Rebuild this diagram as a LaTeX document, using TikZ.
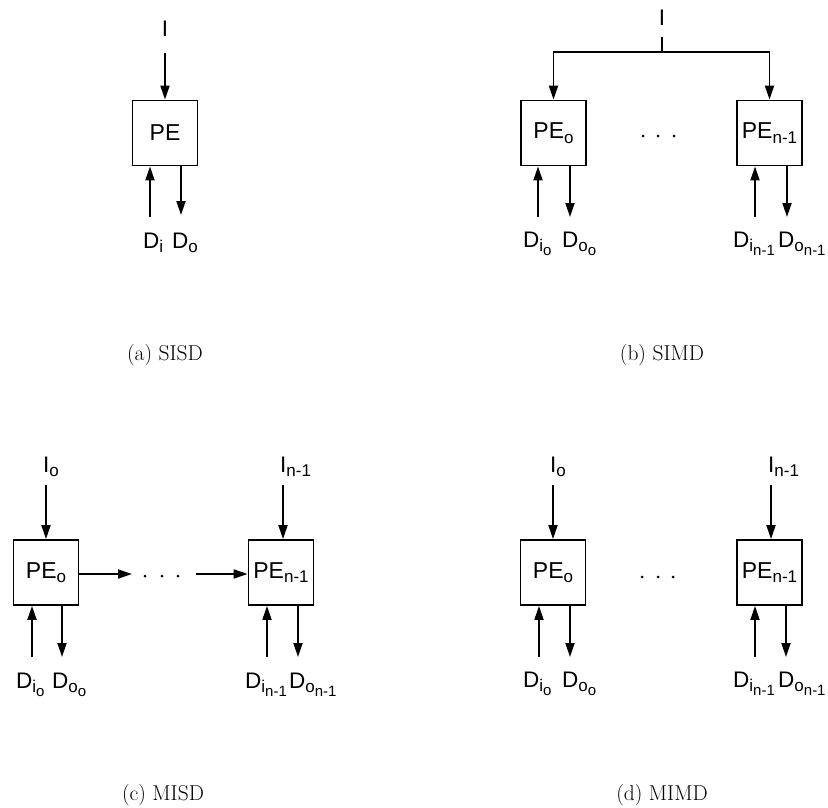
\documentclass[tikz,border=0pt]{standalone}
\usepackage{fontspec}
\newfontfamily\hv{Liberation Sans}
\usetikzlibrary{arrows.meta}
\newcommand\sbx[1]{\raisebox{-0.2em}{\fontsize{17}{17}\selectfont #1}}
\newcommand\ssbx[1]{\raisebox{-0.22em}{\fontsize{15}{15}\selectfont #1}}
\begin{document}
\begin{tikzpicture}[x=1pt,y=-1pt,
  pe/.style={draw, line width=1.8pt, minimum width=65pt, minimum height=65pt, inner sep=0pt, font=\hv\fontsize{23}{23}\selectfont},
  lab/.style={inner sep=0pt, font=\hv\fontsize{22.5}{23}\selectfont},
  captxt/.style={inner sep=0pt, font=\fontsize{21.5}{24}\selectfont, anchor=base},
  ar/.style={line width=1.8pt, -{Triangle[length=14pt,width=9pt]}},
  ln/.style={line width=1.8pt},
  dotc/.style={circle, fill, inner sep=0pt, minimum size=3pt}]
\useasboundingbox (0,0) rectangle (828,808);

% ---------------- (a) SISD ----------------
\node[pe] (pea) at (165,133) {PE};
\node[lab, anchor=base] (Ia) at (165,37) {I};
\coordinate (ia) at (165,53);
\draw[ar] (ia) -- (pea.north);
\coordinate (dia) at (150,217);
\coordinate (doa) at (181,215);
\draw[ar] (dia) -- (dia |- pea.south);
\draw[ar] (doa |- pea.south) -- (doa);
\node[lab, anchor=base west] (Dia) at (143,248) {D\sbx{i}};
\node[lab, anchor=base west] (Doa) at (172,248) {D\sbx{o}};
\node[captxt] (capa) at (165,360) {(a) SISD};

% ---------------- (b) SIMD ----------------
\node[pe] (pe0b) at (553.5,133) {PE\sbx{o}};
\node[pe] (penb) at (769.5,133) {PE\sbx{n-1}};
\node[lab, anchor=base] (Ib) at (662,26) {I};
\coordinate (ib) at (662,37);
\coordinate (jb) at (662,52);
\draw[ln] (ib) -- (jb);
\draw[ar] (jb) -| (pe0b.north);
\draw[ar] (jb) -| (penb.north);
\node[dotc] (b1) at (643,136) {};
\node[dotc] (b2) at (658,136) {};
\node[dotc] (b3) at (674,136) {};
\coordinate (bi0) at (538,217);
\coordinate (bo0) at (570,217);
\coordinate (bin) at (755,217);
\coordinate (bon) at (787,217);
\draw[ar] (bi0) -- (bi0 |- pe0b.south);
\draw[ar] (bo0 |- pe0b.south) -- (bo0);
\draw[ar] (bin) -- (bin |- penb.south);
\draw[ar] (bon |- penb.south) -- (bon);
\node[lab, anchor=base west] (Dib0) at (523,247) {D\sbx{i\ssbx{o}}};
\node[lab, anchor=base west] (Dob0) at (562,247) {D\sbx{o\ssbx{o}}};
\node[lab, anchor=base west] (Dibn) at (733,247) {D\sbx{i\ssbx{n-1}}};
\node[lab, anchor=base west] (Dobn) at (778,247) {D\sbx{o\ssbx{n-1}}};
\node[captxt] (capb) at (662,360) {(b) SIMD};

% ---------------- (c) MISD ----------------
\node[pe] (pe0c) at (46,572.5) {PE\sbx{o}};
\node[pe] (penc) at (281,572.5) {PE\sbx{n-1}};
\node[lab, anchor=base west] (Ic0) at (43,472) {I\sbx{o}};
\node[lab, anchor=base west] (Icn) at (280,472) {I\sbx{n-1}};
\coordinate (ic0) at (46,485);
\coordinate (icn) at (283,485);
\draw[ar] (ic0) -- (ic0 |- pe0c.north);
\draw[ar] (icn) -- (icn |- penc.north);
\coordinate (h1) at (132,574);
\coordinate (h2) at (196,574);
\draw[ar] (pe0c.east |- h1) -- (h1);
\draw[ar] (h2) -- (h2 -| penc.west);
\node[dotc] (c1) at (145,576) {};
\node[dotc] (c2) at (162,576) {};
\node[dotc] (c3) at (178,576) {};
\coordinate (ci0) at (32,657);
\coordinate (co0) at (62,657);
\coordinate (cin) at (267,657);
\coordinate (con) at (298,657);
\draw[ar] (ci0) -- (ci0 |- pe0c.south);
\draw[ar] (co0 |- pe0c.south) -- (co0);
\draw[ar] (cin) -- (cin |- penc.south);
\draw[ar] (con |- penc.south) -- (con);
\node[lab, anchor=base west] (Dic0) at (16,688) {D\sbx{i\ssbx{o}}};
\node[lab, anchor=base west] (Doc0) at (52,688) {D\sbx{o\ssbx{o}}};
\node[lab, anchor=base west] (Dicn) at (245,688) {D\sbx{i\ssbx{n-1}}};
\node[lab, anchor=base west] (Docn) at (289,688) {D\sbx{o\ssbx{n-1}}};
\node[captxt] (capc) at (163,800) {(c) MISD};

% ---------------- (d) MIMD ----------------
\node[pe] (pe0d) at (553,572.5) {PE\sbx{o}};
\node[pe] (pend) at (769.5,572.5) {PE\sbx{n-1}};
\node[lab, anchor=base west] (Id0) at (550,472) {I\sbx{o}};
\node[lab, anchor=base west] (Idn) at (768,472) {I\sbx{n-1}};
\coordinate (id0) at (553,485);
\coordinate (idn) at (771,485);
\draw[ar] (id0) -- (id0 |- pe0d.north);
\draw[ar] (idn) -- (idn |- pend.north);
\node[dotc] (d1) at (642,577) {};
\node[dotc] (d2) at (658,577) {};
\node[dotc] (d3) at (673,577) {};
\coordinate (di0) at (539,657);
\coordinate (do0) at (570,657);
\coordinate (din) at (755,657);
\coordinate (don) at (786,657);
\draw[ar] (di0) -- (di0 |- pe0d.south);
\draw[ar] (do0 |- pe0d.south) -- (do0);
\draw[ar] (din) -- (din |- pend.south);
\draw[ar] (don |- pend.south) -- (don);
\node[lab, anchor=base west] (Did0) at (523,687) {D\sbx{i\ssbx{o}}};
\node[lab, anchor=base west] (Dod0) at (562,687) {D\sbx{o\ssbx{o}}};
\node[lab, anchor=base west] (Didn) at (733,687) {D\sbx{i\ssbx{n-1}}};
\node[lab, anchor=base west] (Dodn) at (778,687) {D\sbx{o\ssbx{n-1}}};
\node[captxt] (capd) at (662,800) {(d) MIMD};
\end{tikzpicture}
\end{document}
